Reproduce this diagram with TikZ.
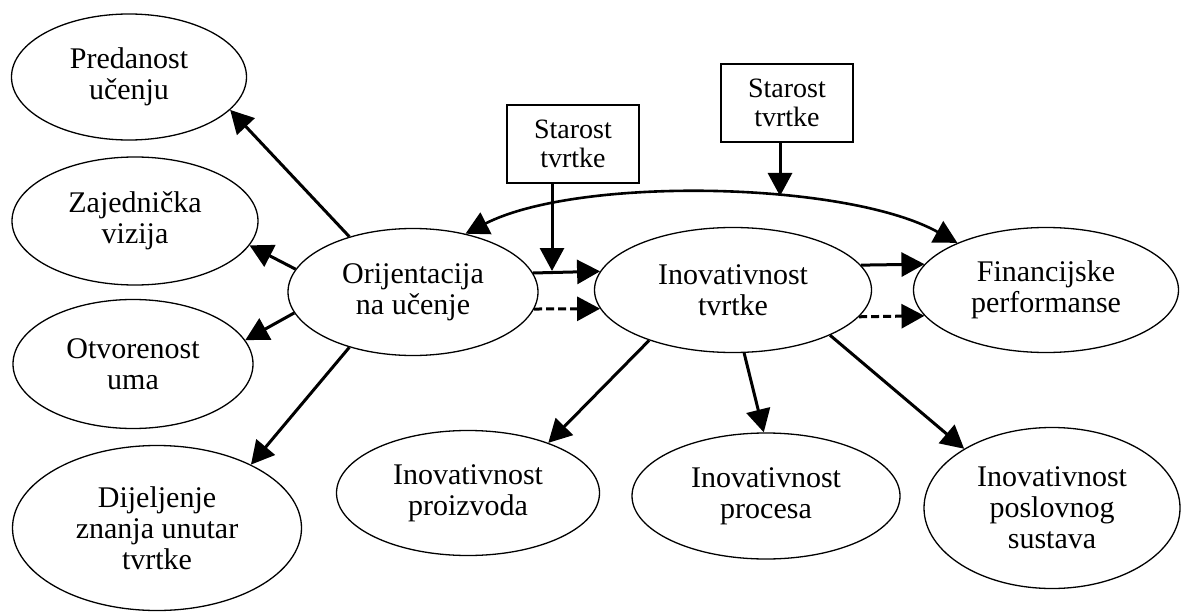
\documentclass[tikz,border=0pt]{standalone}
\usepackage{fontspec}
\setmainfont{Liberation Serif}
\usetikzlibrary{arrows.meta,shapes.geometric}
\begin{document}
\begin{tikzpicture}[x=1pt,y=-1pt,
  ell/.style={draw, line width=1.3pt, ellipse, inner sep=0pt, align=center, font=\fontsize{30}{31}\selectfont},
  bx/.style={draw, line width=1.4pt, rectangle, inner sep=0pt, align=center, minimum width=132pt, minimum height=78pt, font=\fontsize{28}{29}\selectfont},
  arr/.style={line width=3pt, -{Triangle[length=23pt,width=24pt]}},
  darr/.style={arr, dash pattern=on 8pt off 4pt}]
\useasboundingbox (0,0) rectangle (1182,612);

\node[ell, minimum width=235pt, minimum height=126pt] (pred) at (129,77) {Predanost\\učenju};
\node[ell, minimum width=246pt, minimum height=128pt] (zaj) at (135,221) {Zajednička\\vizija};
\node[ell, minimum width=240pt, minimum height=129pt] (otv) at (133,364) {Otvorenost\\uma};
\node[ell, minimum width=289pt, minimum height=165pt] (dij) at (157,528) {Dijeljenje\\znanja unutar\\tvrtke};
\node[ell, minimum width=250pt, minimum height=127pt] (orij) at (413,292) {Orijentacija\\na učenje};
\node[ell, minimum width=277pt, minimum height=125pt] (inov) at (733,290) {Inovativnost\\tvrtke};
\node[ell, minimum width=265pt, minimum height=125pt] (fin) at (1046,290) {Financijske\\performanse};
\node[ell, minimum width=263pt, minimum height=125pt] (proiz) at (468,493) {Inovativnost\\proizvoda};
\node[ell, minimum width=268pt, minimum height=126pt] (proc) at (766,496) {Inovativnost\\procesa};
\node[ell, minimum width=256pt, minimum height=161pt] (posl) at (1052,508) {Inovativnost\\poslovnog\\sustava};
\node[bx] (st1) at (573,144) {Starost\\tvrtke};
\node[bx] (st2) at (787,103) {Starost\\tvrtke};

\coordinate (m1) at (552,271);
\coordinate (m2) at (780,196);

\draw[arr] (orij.139) -- (pred.-18);
\draw[arr] (orij.169) -- (zaj.-12);
\draw[arr] (orij.190) -- (otv.12);
\draw[arr] (orij.221) -- (dij.34);
\draw[arr] (orij.9.5) -- (inov.172.4);
\draw[darr] (orij.-8.5) -- (inov.188.7);
\draw[arr] (inov.11) -- (fin.168.3);
\draw[darr] (inov.-12.2) -- (fin.192.7);
\draw[arr] (inov.211) -- (proiz.32);
\draw[arr] (inov.-80) -- (proc.92);
\draw[arr] (inov.-25) -- (posl.146.6);
\draw[line width=2.6pt, {Triangle[length=23pt,width=24pt]}-{Triangle[length=23pt,width=24pt]}] (orij.48) to[out=27,in=151,looseness=0.66] (fin.152);
\draw[arr] (st1.south -| m1) -- (m1);
\draw[arr] (st2.south -| m2) -- (m2);
\end{tikzpicture}
\end{document}
